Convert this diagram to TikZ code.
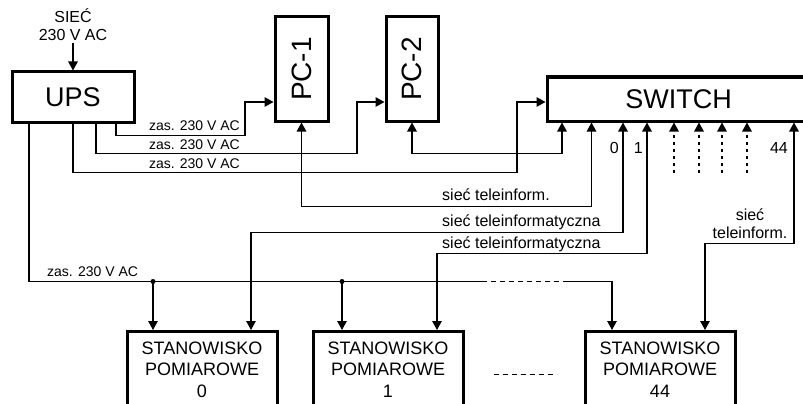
\documentclass[tikz,border=0pt]{standalone}
\usepackage{fontspec}
\setmainfont{Liberation Sans}
\usetikzlibrary{arrows.meta}
\begin{document}
\begin{tikzpicture}[x=1pt,y=-1pt,line join=miter,>={Triangle[length=9pt,width=9.5pt]},
  box/.style={draw,line width=3pt,inner sep=0pt},
  wire/.style={line width=1.3pt},
  lbl/.style={inner sep=0pt,font=\fontsize{16}{18}\selectfont},
  zas/.style={inner sep=0pt,font=\fontsize{14}{16}\selectfont},
  station/.style={box,anchor=north,minimum width=150pt,minimum height=76pt,align=center,font=\fontsize{18}{21.5}\selectfont}]
  \useasboundingbox (0,0) rectangle (803,404);
  \clip (0,0) rectangle (803,404);
  \node[box,minimum width=122pt,minimum height=50pt,font=\fontsize{27}{30}\selectfont] (ups) at (73,97) {UPS};
  \node[box,minimum width=53pt,minimum height=104pt,font=\fontsize{28}{30}\selectfont] (pc1) at (301.5,69) {\rotatebox{90}{PC-1}};
  \node[box,minimum width=52pt,minimum height=104pt,font=\fontsize{28}{30}\selectfont] (pc2) at (412,69) {\rotatebox{90}{PC-2}};
  \node[box,minimum width=263pt,minimum height=44pt,font=\fontsize{27}{30}\selectfont] (switch) at (678.5,99) {SWITCH};
  \node[station] (st0) at (202,330) {STANOWISKO\\POMIAROWE\\0};
  \node[station] (st1) at (388,330) {STANOWISKO\\POMIAROWE\\1};
  \node[station] (st44) at (660,330) {STANOWISKO\\POMIAROWE\\44};
  \node[lbl,align=center,anchor=south,inner ysep=2pt] (siec) at (73,43) {SIEĆ\\230 V AC};
  \draw[wire,->] (siec.south) -- (ups.north);
  \draw[wire,->] ([xshift=43pt]ups.south) |- ++(129,12) |- ([yshift=-33pt]pc1.west);
  \draw[wire,->] ([xshift=23pt]ups.south) |- ++(261,30) |- ([yshift=-33pt]pc2.west);
  \draw[wire,->] (ups.south) |- ++(444,49) |- ([yshift=-3pt]switch.west);
  \node[zas,anchor=base east] (zas1) at (240,130) {zas. 230 V AC};
  \node[zas,anchor=base east] (zas2) at (240,149) {zas. 230 V AC};
  \node[zas,anchor=base east] (zas3) at (240,168) {zas. 230 V AC};
  \draw[wire,<->] (pc1.south) -- ++(0,84) -| ([xshift=-87pt]switch.south);
  \draw[wire,<->] (pc2.south) -- ++(0,31) -| ([xshift=-116.5pt]switch.south);
  \draw[wire,<->] ([xshift=-55.5pt]switch.south) -- ++(0,110) -| ([xshift=49pt]st0.north);
  \draw[wire,<->] ([xshift=-31.5pt]switch.south) -- ++(0,131) -| ([xshift=49pt]st1.north);
  \draw[wire,<->] ([xshift=115.5pt]switch.south) -- ++(0,121) -| ([xshift=45pt]st44.north);
  \foreach \dx in {-4.5,20.5,43.5,68.5}
    \draw[wire,dash pattern=on 3pt off 4pt,->] ([xshift=\dx pt,yshift=-50pt]switch.south) -- ([xshift=\dx pt]switch.south);
  \node[lbl,anchor=base east] (port0) at (619,153) {0};
  \node[lbl,anchor=base east] (port1) at (643,153) {1};
  \node[lbl,anchor=base east] (port44) at (788,153) {44};
  \node[lbl,anchor=base west] (net1) at (442,200) {sieć teleinform.};
  \node[lbl,anchor=base west] (net2) at (442,226) {sieć teleinformatyczna};
  \node[lbl,anchor=base west] (net3) at (442,248) {sieć teleinformatyczna};
  \node[lbl,align=center,anchor=south] (net44) at (750,239) {sieć\\teleinform.};
  \path ([xshift=-49pt]st0.north) ++(0,-48.5) coordinate (j0);
  \path ([xshift=-46pt]st1.north) ++(0,-48.5) coordinate (j1);
  \draw[wire] ([xshift=-44pt]ups.south) |- (j0) -- (j1) -- ++(140,0) coordinate (gapL);
  \draw[wire,dash pattern=on 5pt off 4pt] (gapL) -- ++(81,0) coordinate (gapR);
  \draw[wire,->] (gapR) -| ([xshift=-48pt]st44.north);
  \draw[wire,->] (j0) -- ([xshift=-49pt]st0.north);
  \draw[wire,->] (j1) -- ([xshift=-46pt]st1.north);
  \fill (j0) circle (2.5pt);
  \fill (j1) circle (2.5pt);
  \node[zas,anchor=base west] (zas4) at (47,276) {zas. 230 V AC};
  \draw[wire,dash pattern=on 5pt off 4pt] ([xshift=29pt,yshift=-5pt]st1.east) -- ([xshift=-27pt,yshift=-5pt]st44.west);
\end{tikzpicture}
\end{document}
